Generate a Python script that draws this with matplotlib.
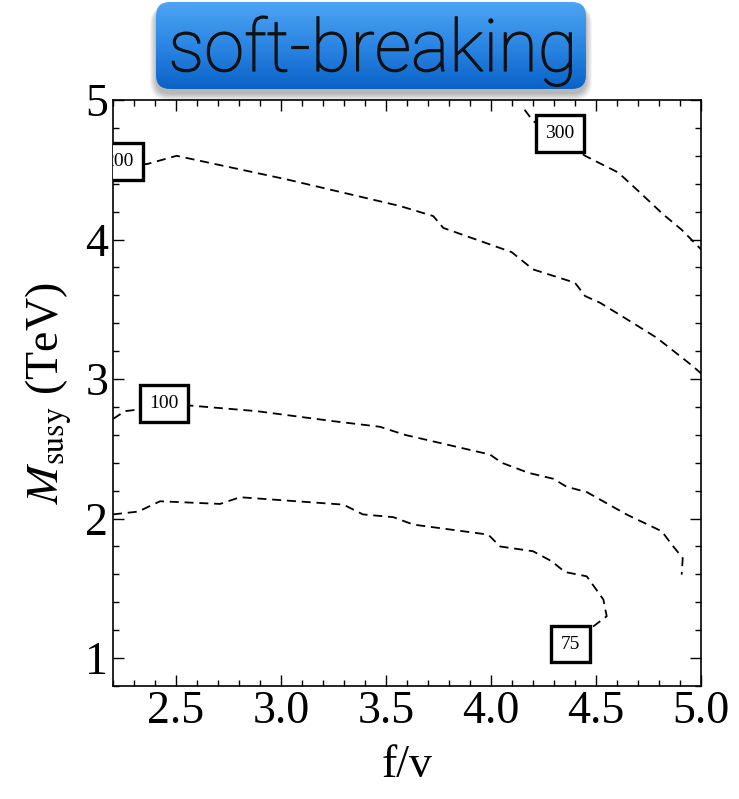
import numpy as np
import matplotlib.pyplot as plt
import matplotlib.patheffects as pe
from matplotlib.patches import FancyBboxPatch
from matplotlib.colors import LinearSegmentedColormap
from matplotlib.ticker import MultipleLocator

plt.rcParams['font.family'] = ['Liberation Serif', 'DejaVu Serif']
plt.rcParams['mathtext.fontset'] = 'stix'

# contour lines of the fine-tuning measure, read as (f/v, M_susy) points
fv_75 = [2.2, 2.32, 2.424, 2.71, 2.805, 3.297, 3.39, 3.535, 3.63, 3.987, 4.043,
         4.20, 4.289, 4.352, 4.456, 4.535, 4.551, 4.487, 4.40]
ms_75 = [2.03, 2.05, 2.124, 2.105, 2.153, 2.10, 2.03, 2.01, 1.957, 1.885, 1.80,
         1.766, 1.694, 1.617, 1.586, 1.42, 1.30, 1.227, 1.13]

fv_100 = [2.2, 2.257, 2.297, 2.443, 2.567, 2.884, 3.249, 3.471, 3.59, 3.995, 4.051,
          4.178, 4.297, 4.36, 4.456, 4.646, 4.813, 4.868, 4.913, 4.908]
ms_100 = [2.714, 2.77, 2.777, 2.81, 2.81, 2.77, 2.698, 2.658, 2.60, 2.459, 2.40,
          2.328, 2.285, 2.228, 2.19, 2.029, 1.909, 1.80, 1.717, 1.598]

fv_200 = [2.2, 2.36, 2.503, 3.03, 3.567, 3.725, 3.773, 4.098, 4.20, 4.40, 4.448,
          4.519, 4.678, 4.789, 4.963, 5.0]
ms_200 = [4.56, 4.54, 4.60, 4.43, 4.24, 4.168, 4.083, 3.91, 3.786, 3.69, 3.595,
          3.547, 3.40, 3.296, 3.09, 3.04]

fv_300 = [4.16, 4.20, 4.33, 4.448, 4.606, 4.71, 4.82, 4.908, 5.0]
ms_300 = [4.93, 4.85, 4.72, 4.60, 4.48, 4.336, 4.18, 4.07, 3.93]

levels = ['75', '100', '200', '300']
label_fv = [4.38, 2.443, 2.229, 4.329]
label_ms = [1.10, 2.825, 4.56, 4.76]

fig = plt.figure(figsize=(7.39, 7.99), dpi=100)
ax = fig.add_axes([113 / 739, 113 / 799, 588 / 739, 586 / 799])

for xs, ys in [(fv_75, ms_75), (fv_100, ms_100), (fv_200, ms_200), (fv_300, ms_300)]:
    ax.plot(xs, ys, color='black', lw=1.3, linestyle=(0, (5, 3.2)))

for lab, x, y in zip(levels, label_fv, label_ms):
    ax.text(x, y, lab, fontsize=14, ha='center', va='center', zorder=5,
            clip_on=True,
            bbox=dict(boxstyle='square,pad=0.5', fc='white', ec='black', lw=2.4))

ax.set_xlim(2.2, 5.0)
ax.set_ylim(0.8, 5.0)
ax.xaxis.set_major_locator(MultipleLocator(0.5))
ax.xaxis.set_minor_locator(MultipleLocator(0.1))
ax.yaxis.set_major_locator(MultipleLocator(1))
ax.yaxis.set_minor_locator(MultipleLocator(0.2))
ax.tick_params(which='both', direction='in', top=True, right=True, labelsize=33, width=1)
ax.tick_params(which='major', length=8)
ax.tick_params(which='minor', length=4.5)
ax.xaxis.set_major_formatter(plt.FuncFormatter(lambda v, p: f'{v:.1f}'))
ax.yaxis.set_major_formatter(plt.FuncFormatter(lambda v, p: f'{v:.0f}'))
for s in ax.spines.values():
    s.set_linewidth(1.2)

ax.set_xlabel('f/v', fontsize=33, labelpad=8)
ax.set_ylabel(r'$M_{\rm susy}$ (TeV)', fontsize=33, labelpad=9)

# title badge: rounded blue gradient box with a soft shadow
tax = fig.add_axes([140 / 739, 699 / 799, 460 / 739, 100 / 799])
tax.set_xlim(140, 600)
tax.set_ylim(100, 0)
tax.axis('off')
for i in range(7):
    sh = FancyBboxPatch((156 - i, 8 - i * 0.5), 430 + 2 * i, 86 + i * 1.6,
                        boxstyle='round,pad=0,rounding_size=%g' % (14 + i),
                        fc='black', ec='none', alpha=0.045, zorder=1)
    tax.add_patch(sh)
box = FancyBboxPatch((156, 2), 430, 87, boxstyle='round,pad=0,rounding_size=14',
                     fc='none', ec='none')
tax.add_patch(box)
cmap = LinearSegmentedColormap.from_list('badge', ['#4ea4f4', '#2b86e3', '#0a62c8'])
grad = np.linspace(0, 1, 256).reshape(-1, 1)
img = tax.imshow(grad, cmap=cmap, extent=(156, 586, 89, 2), origin='upper',
                 aspect='auto', interpolation='bicubic', zorder=2)
img.set_clip_path(box)
tax.text(373, 71, 'soft-breaking', fontsize=52, ha='center', va='baseline',
         family=['Roboto', 'Liberation Sans', 'DejaVu Sans'], fontweight='light',
         color='#111111', zorder=3,
         path_effects=[pe.withStroke(linewidth=0.9, foreground='#111111')])

fig.savefig('out.png', dpi=100)
